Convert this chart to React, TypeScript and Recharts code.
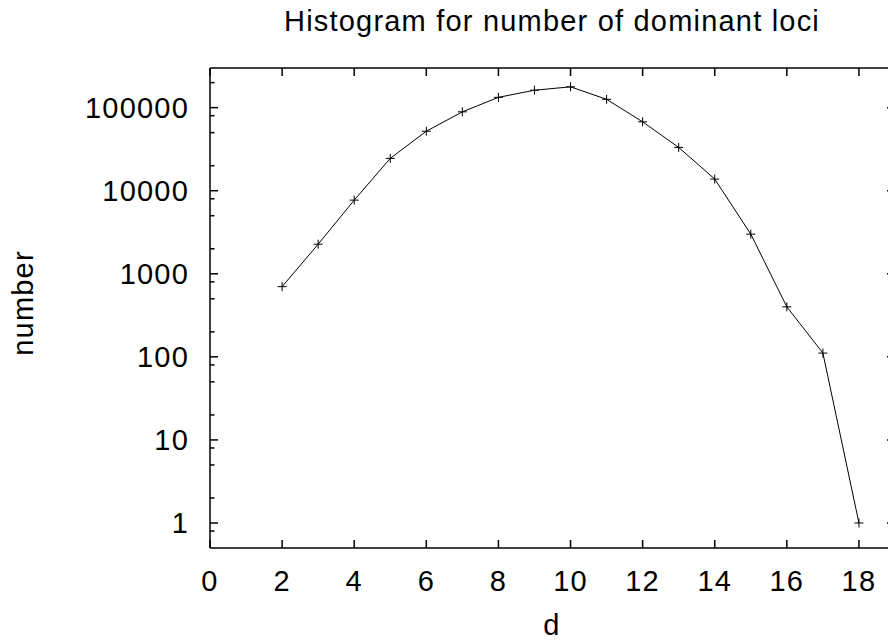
import { LineChart, Line, XAxis, YAxis } from 'recharts';

const dValues = [2, 3, 4, 5, 6, 7, 8, 9, 10, 11, 12, 13, 14, 15, 16, 17, 18];
const counts = [
  700, 2270, 7700, 24500, 52000, 89000, 133000, 162000, 178000, 126000, 67500, 33200, 13800, 3000,
  400, 111, 1,
];
const xTicks = [0, 2, 4, 6, 8, 10, 12, 14, 16, 18];
const yMajorTicks = [1, 10, 100, 1000, 10000, 100000];
const yMinorTicks = [
  0.8, 2, 5, 8, 20, 50, 80, 200, 500, 800, 2000, 5000, 8000, 20000, 50000, 80000, 200000,
];
const yTicks = [...yMajorTicks, ...yMinorTicks].sort((a, b) => a - b);

const data = dValues.map((d, i) => ({ d, count: counts[i] }));

const FONT = '"Liberation Sans", Arial, Helvetica, sans-serif';
const textStyle = { fontFamily: FONT, fontSize: 29, letterSpacing: '1.2px', fill: '#000' };

// gnuplot style: ticks point into the plot, minor ones shorter
const LeftTick = ({ x, y, payload }: any) => {
  const major = yMajorTicks.includes(payload.value);
  return (
    <g>
      <line x1={x} x2={x + (major ? 8 : 4.5)} y1={y} y2={y} stroke="#000" strokeWidth={1.5} />
      {major && (
        <text x={x - 21} y={y} dy="0.36em" textAnchor="end" style={textStyle}>
          {payload.value}
        </text>
      )}
    </g>
  );
};

const RightTick = ({ x, y, payload }: any) => {
  const major = yMajorTicks.includes(payload.value);
  return <line x1={x} x2={x - (major ? 8 : 4.5)} y1={y} y2={y} stroke="#000" strokeWidth={1.5} />;
};

const BottomTick = ({ x, y, payload }: any) => (
  <g>
    <line x1={x} x2={x} y1={y} y2={y - 8} stroke="#000" strokeWidth={1.5} />
    <text x={x} y={y + 43} textAnchor="middle" style={textStyle}>
      {payload.value}
    </text>
  </g>
);

const TopTick = ({ x, y }: any) => (
  <line x1={x} x2={x} y1={y} y2={y + 8} stroke="#000" strokeWidth={1.5} />
);

const PlusDot = ({ cx, cy, index }: any) => (
  <path
    key={index}
    d={`M${cx - 4.5},${cy}H${cx + 4.5}M${cx},${cy - 4.5}V${cy + 4.5}`}
    stroke="#000"
    strokeWidth={1}
    fill="none"
  />
);

export default function App() {
  return (
    <div
      style={{
        position: 'fixed',
        left: 0,
        top: 0,
        width: 888,
        height: 643,
        overflow: 'hidden',
        background: '#fff',
      }}
    >
      <LineChart width={900} height={643} data={data} margin={{ top: 67, right: 0, bottom: 0, left: 0 }}>
        <XAxis
          xAxisId="bottom"
          dataKey="d"
          type="number"
          domain={[0, 19]}
          allowDataOverflow
          ticks={xTicks}
          interval={0}
          height={95}
          tickSize={0}
          tickMargin={0}
          tickLine={false}
          tick={<BottomTick />}
          axisLine={{ stroke: '#000', strokeWidth: 1.5 }}
        />
        <XAxis
          xAxisId="top"
          orientation="top"
          dataKey="d"
          type="number"
          domain={[0, 19]}
          allowDataOverflow
          ticks={xTicks}
          interval={0}
          height={1}
          tickSize={0}
          tickMargin={0}
          tickLine={false}
          tick={<TopTick />}
          axisLine={{ stroke: '#000', strokeWidth: 1.5 }}
        />
        <YAxis
          yAxisId="left"
          scale="log"
          type="number"
          domain={[0.5, 300000]}
          allowDataOverflow
          ticks={yTicks}
          interval={0}
          width={210}
          tickSize={0}
          tickMargin={0}
          tickLine={false}
          tick={<LeftTick />}
          axisLine={{ stroke: '#000', strokeWidth: 1.5 }}
        />
        <YAxis
          yAxisId="right"
          orientation="right"
          scale="log"
          type="number"
          domain={[0.5, 300000]}
          allowDataOverflow
          ticks={yTicks}
          interval={0}
          width={5}
          tickSize={0}
          tickMargin={0}
          tickLine={false}
          tick={<RightTick />}
          axisLine={{ stroke: '#000', strokeWidth: 1.5 }}
        />
        <Line
          xAxisId="bottom"
          yAxisId="left"
          type="linear"
          dataKey="count"
          stroke="#000"
          strokeWidth={1}
          dot={<PlusDot />}
          activeDot={false}
          isAnimationActive={false}
        />
      </LineChart>
      <svg
        width={888}
        height={643}
        style={{ position: 'absolute', left: 0, top: 0, pointerEvents: 'none' }}
      >
        <text x={552} y={31} textAnchor="middle" style={textStyle}>
          Histogram for number of dominant loci
        </text>
        <text x={552} y={635} textAnchor="middle" style={textStyle}>
          d
        </text>
        <text
          x={0}
          y={0}
          textAnchor="middle"
          transform="translate(33,303) rotate(-90)"
          style={textStyle}
        >
          number
        </text>
      </svg>
    </div>
  );
}
